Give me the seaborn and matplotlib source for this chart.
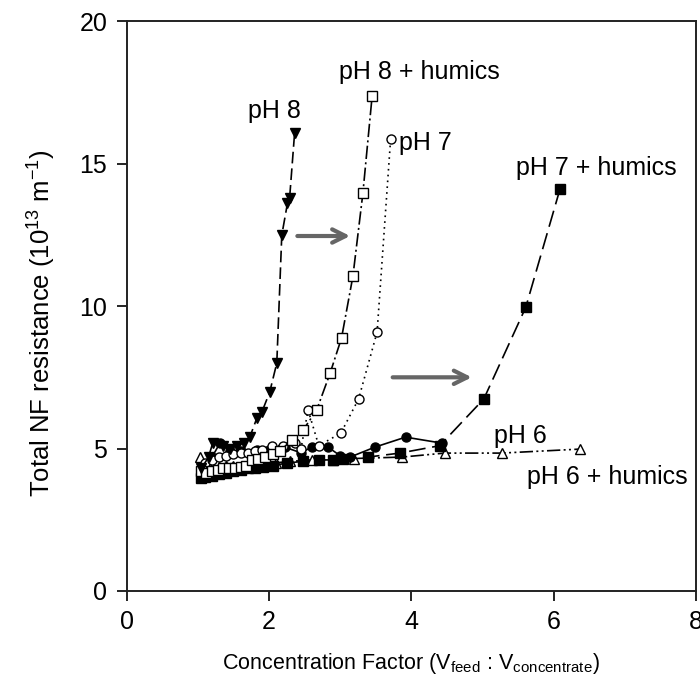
import matplotlib
matplotlib.use("Agg")
import matplotlib.pyplot as plt
import seaborn as sns

sns.set_style("ticks")
plt.rcParams['font.family'] = ['Liberation Sans', 'DejaVu Sans']
plt.rcParams['mathtext.default'] = 'regular'
for k in ['text.color', 'axes.labelcolor', 'xtick.color', 'ytick.color']:
    plt.rcParams[k] = 'black'

# ---- data ----
ph8_x = [1.05, 1.15, 1.21, 1.35, 1.45, 1.55, 1.65, 1.73, 1.83, 1.90, 2.01, 2.11, 2.18, 2.26, 2.29, 2.36]
ph8_y = [4.3, 4.7, 5.2, 5.1, 5.0, 5.1, 5.2, 5.4, 6.07, 6.28, 6.98, 8.0, 12.49, 13.61, 13.79, 16.07]

ph8h_x = [1.05, 1.12, 1.2, 1.28, 1.36, 1.44, 1.52, 1.6, 1.68, 1.76, 1.85, 1.95, 2.05, 2.15, 2.32, 2.48, 2.67, 2.86, 3.02, 3.18, 3.32, 3.45]
ph8h_y = [4.2, 4.15, 4.2, 4.25, 4.3, 4.3, 4.3, 4.35, 4.4, 4.6, 4.65, 4.7, 4.8, 4.9, 5.3, 5.65, 6.35, 7.65, 8.88, 11.05, 13.96, 17.37]

ph7_x = [1.1, 1.2, 1.3, 1.4, 1.5, 1.6, 1.7, 1.8, 1.9, 2.04, 2.2, 2.36, 2.45, 2.55, 2.7, 3.01, 3.26, 3.52, 3.71]
ph7_y = [4.5, 4.6, 4.7, 4.75, 4.8, 4.85, 4.85, 4.9, 4.95, 5.1, 5.1, 5.19, 5.0, 6.35, 5.1, 5.54, 6.74, 9.09, 15.86]

ph7h_x = [1.05, 1.1, 1.2, 1.3, 1.4, 1.5, 1.6, 1.7, 1.8, 1.91, 2.05, 2.25, 2.48, 2.71, 2.9, 3.04, 3.39, 3.84, 4.40, 5.02, 5.61, 6.09]
ph7h_y = [3.95, 4.0, 4.05, 4.1, 4.15, 4.2, 4.25, 4.3, 4.3, 4.35, 4.4, 4.49, 4.55, 4.6, 4.6, 4.63, 4.7, 4.84, 5.1, 6.74, 9.96, 14.1]

ph6_x = [1.1, 1.2, 1.31, 1.45, 1.6, 1.83, 2.0, 2.22, 2.45, 2.6, 2.83, 3.0, 3.14, 3.49, 3.92, 4.43]
ph6_y = [4.4, 4.7, 5.19, 4.9, 4.9, 4.95, 4.95, 5.05, 4.85, 5.05, 5.05, 4.75, 4.7, 5.05, 5.4, 5.19]

ph6h_x = [1.03, 1.1, 1.2, 1.3, 1.4, 1.5, 1.7, 1.9, 2.1, 2.3, 2.6, 2.9, 3.2, 3.87, 4.47, 5.27, 6.37]
ph6h_y = [4.7, 4.3, 4.3, 4.35, 4.4, 4.4, 4.45, 4.5, 4.5, 4.55, 4.6, 4.6, 4.65, 4.7, 4.84, 4.84, 4.98]

labels = ["pH 8", "pH 8 + humics", "pH 7", "pH 7 + humics", "pH 6", "pH 6 + humics"]
x_ticks = [0, 2, 4, 6, 8]
y_ticks = [0, 5, 10, 15, 20]

fig = plt.figure(figsize=(7.0, 6.84), dpi=100)
ax = fig.add_axes([0.181, 0.136, 0.813, 0.833])

series = [
    (ph6h_x, ph6h_y, '^', 'white', (8, 2, 1.2, 2, 1.2, 2)),
    (ph6_x, ph6_y, 'o', 'black', None),
    (ph7h_x, ph7h_y, 's', 'black', (10, 4)),
    (ph7_x, ph7_y, 'o', 'white', (1, 2.5)),
    (ph8h_x, ph8h_y, 's', 'white', (8, 2, 1.2, 2)),
    (ph8_x, ph8_y, 'v', 'black', (7, 3)),
]
for xs, ys, mk, fc, dash in series:
    kw = dict(x=xs, y=ys, ax=ax, color='black', marker=mk, markersize=6.5,
              markerfacecolor=fc, markeredgecolor='black', markeredgewidth=1.0,
              linewidth=1.2, estimator=None, sort=False)
    n = len(ax.lines)
    sns.lineplot(**kw)
    if dash is not None:
        ax.lines[n].set_dashes(dash)

# arrows
arrow_kw = dict(arrowstyle='->', color='#666666', lw=3.0, mutation_scale=24)
ax.annotate('', xy=(3.18, 12.46), xytext=(2.36, 12.46), arrowprops=arrow_kw)
ax.annotate('', xy=(4.89, 7.5), xytext=(3.70, 7.5), arrowprops=arrow_kw)

# labels
fs = 18
ax.text(2.08, 16.85, labels[0], ha='center', va='center', fontsize=fs)
ax.text(4.12, 18.2, labels[1], ha='center', va='center', fontsize=fs)
ax.text(3.83, 15.72, labels[2], ha='left', va='center', fontsize=fs)
ax.text(6.6, 14.85, labels[3], ha='center', va='center', fontsize=fs)
ax.text(5.53, 5.45, labels[4], ha='center', va='center', fontsize=fs)
ax.text(6.75, 4.0, labels[5], ha='center', va='center', fontsize=fs)

ax.set_xlim(0, 8)
ax.set_ylim(0, 20)
ax.set_xticks(x_ticks)
ax.set_yticks(y_ticks)
ax.tick_params(labelsize=18, direction='out', length=7, width=1.2, colors='black', pad=7)
for s in ax.spines.values():
    s.set_visible(True)
    s.set_linewidth(1.4)
    s.set_color('#222222')

ax.set_xlabel('Concentration Factor (V$_{feed}$ : V$_{concentrate}$)', fontsize=15.5, labelpad=12)
ax.set_ylabel('Total NF resistance (10$^{13}$ m$^{-1}$)', fontsize=18.5)
ax.yaxis.set_label_coords(-0.121, 0.47)

fig.savefig('out.png', dpi=100)
